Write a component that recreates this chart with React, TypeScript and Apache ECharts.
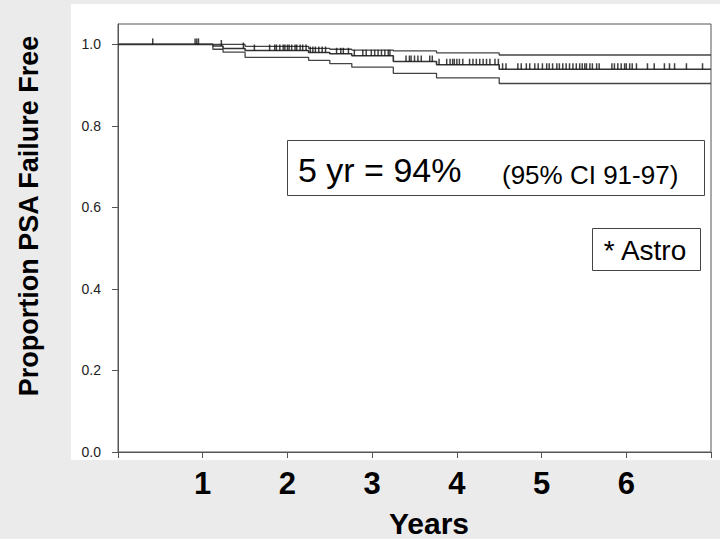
import React, { useEffect, useRef } from "react";
import * as echarts from "echarts";

// Kaplan-Meier step data (years, proportion PSA failure free)
const stepTimes = [0, 1.12, 1.24, 1.5, 2.25, 2.5, 2.76, 3.25, 3.76, 4.5, 7.0];
const survival = [1.0, 0.996, 0.99, 0.985, 0.98, 0.977, 0.972, 0.958, 0.95, 0.939, 0.939];
const upperCI = [1.0, 1.0, 1.0, 0.995, 0.99, 0.988, 0.986, 0.984, 0.979, 0.974, 0.974];
const lowerCI = [1.0, 0.988, 0.981, 0.968, 0.961, 0.953, 0.944, 0.929, 0.918, 0.904, 0.904];

// Censoring times (tick marks on the survival curve)
const censorTimes = [
  0.41, 0.91, 0.93, 0.95, 1.22, 1.48,
  1.61, 1.79, 1.85, 1.87, 1.91, 1.95, 1.97, 2.0, 2.02, 2.05, 2.09, 2.11, 2.15, 2.18, 2.22,
  2.27, 2.3, 2.33, 2.37, 2.41, 2.45,
  2.58, 2.63, 2.66, 2.72,
  2.79, 2.89, 2.93, 2.99, 3.03, 3.07, 3.11, 3.15, 3.19, 3.21,
  3.4, 3.44, 3.46, 3.5, 3.54, 3.58, 3.68, 3.71,
  3.79, 3.88, 3.92, 3.95, 3.97, 4.0, 4.03, 4.07, 4.15, 4.19, 4.23, 4.27, 4.31, 4.35, 4.39, 4.45, 4.49,
  4.54, 4.58, 4.72, 4.76, 4.82, 4.86, 4.92, 4.96,
  5.01, 5.06, 5.09, 5.13, 5.18, 5.21, 5.25, 5.29, 5.33, 5.37, 5.41, 5.45, 5.48, 5.51, 5.53, 5.57,
  5.6, 5.65, 5.68, 5.83, 5.86, 5.9, 5.94, 5.98, 6.0, 6.04, 6.07, 6.12, 6.25, 6.33, 6.45, 6.51,
  6.57, 6.71, 6.9,
];

const xTickLabels = ["", "1", "2", "3", "4", "5", "6", ""];
const yTickValues = [0, 0.2, 0.4, 0.6, 0.8, 1.0];

const yAxisTitle = "Proportion PSA Failure Free";
const xAxisTitle = "Years";
const summaryMain = "5 yr = 94%";
const summaryCI = "(95% CI 91-97)";
const noteText = "* Astro";

function survAt(t: number): number {
  let v = survival[0];
  for (let i = 0; i < stepTimes.length; i++) {
    if (stepTimes[i] <= t) v = survival[i];
  }
  return v;
}

const FONT = "Liberation Sans, Arial, sans-serif";

export default function App() {
  const ref = useRef<HTMLDivElement>(null);

  useEffect(() => {
    document.body.style.margin = "0";
    if (!ref.current) return;
    const chart = echarts.init(ref.current, undefined, { renderer: "svg" });
    const pairs = (ys: number[]) => stepTimes.map((t, i) => [t, ys[i]]);
    const lineColor = "#333333";

    chart.setOption({
      animation: false,
      backgroundColor: "#ebebeb",
      textStyle: { fontFamily: FONT },
      grid: {
        left: 118,
        top: 24,
        right: 9,
        bottom: 87,
        show: true,
        borderColor: "#555555",
        borderWidth: 1,
        backgroundColor: "transparent",
      },
      xAxis: {
        type: "value",
        min: 0,
        max: 7,
        interval: 1,
        axisLine: { show: true, onZero: false, lineStyle: { color: "#555555", width: 1 } },
        axisTick: { show: true, length: 6, lineStyle: { color: "#555555" } },
        splitLine: { show: false },
        axisLabel: {
          margin: 16,
          fontSize: 31,
          fontWeight: "bold",
          color: "#000",
          fontFamily: FONT,
          formatter: (v: number) => xTickLabels[Math.round(v)] ?? "",
        },
      },
      yAxis: {
        type: "value",
        min: 0,
        max: 1.05,
        axisLine: { show: true, onZero: false, lineStyle: { color: "#555555", width: 1 } },
        axisTick: { show: true, length: 6, customValues: yTickValues, lineStyle: { color: "#555555" } },
        splitLine: { show: false },
        axisLabel: {
          margin: 17,
          fontSize: 14,
          color: "#222",
          fontFamily: FONT,
          customValues: yTickValues,
          formatter: (v: number) => v.toFixed(1),
        },
      },
      graphic: [
        {
          type: "rect",
          z: -10,
          zlevel: 0,
          silent: true,
          shape: { x: 71, y: 4, width: 649, height: 456 },
          style: { fill: "#ffffff" },
        },
        {
          type: "text",
          x: 29,
          y: 216,
          rotation: Math.PI / 2,
          style: {
            text: yAxisTitle,
            fontSize: 27,
            fontWeight: "bold",
            fontFamily: FONT,
            fill: "#000",
            align: "center",
            verticalAlign: "middle",
          },
        },
        {
          type: "text",
          x: 429,
          y: 523,
          style: {
            text: xAxisTitle,
            fontSize: 30,
            fontWeight: "bold",
            fontFamily: FONT,
            fill: "#000",
            align: "center",
            verticalAlign: "middle",
          },
        },
        {
          type: "rect",
          shape: { x: 287.5, y: 140.5, width: 417, height: 55 },
          style: { fill: "#ffffff", stroke: "#444", lineWidth: 1 },
        },
        {
          type: "text",
          x: 298,
          y: 170,
          style: {
            text: summaryMain,
            fontSize: 34,
            fontFamily: FONT,
            fill: "#000",
            align: "left",
            verticalAlign: "middle",
          },
        },
        {
          type: "text",
          x: 502,
          y: 175,
          style: {
            text: summaryCI,
            fontSize: 26,
            fontFamily: FONT,
            fill: "#000",
            align: "left",
            verticalAlign: "middle",
          },
        },
        {
          type: "rect",
          shape: { x: 592.5, y: 228.5, width: 108, height: 42 },
          style: { fill: "#ffffff", stroke: "#444", lineWidth: 1 },
        },
        {
          type: "text",
          x: 645,
          y: 250,
          style: {
            text: noteText,
            fontSize: 28,
            fontFamily: FONT,
            fill: "#000",
            align: "center",
            verticalAlign: "middle",
          },
        },
      ],
      series: [
        {
          type: "line",
          step: "end",
          data: pairs(upperCI),
          symbol: "none",
          lineStyle: { color: "#444", width: 1.3 },
          z: 3,
        },
        {
          type: "line",
          step: "end",
          data: pairs(lowerCI),
          symbol: "none",
          lineStyle: { color: "#444", width: 1.3 },
          z: 3,
        },
        {
          type: "line",
          step: "end",
          data: pairs(survival),
          symbol: "none",
          lineStyle: { color: lineColor, width: 1.6 },
          z: 4,
        },
        {
          type: "scatter",
          data: censorTimes.map((t) => [t, survAt(t)]),
          symbol: "rect",
          symbolSize: [1.5, 6],
          symbolOffset: [0, -3],
          itemStyle: { color: "#111" },
          z: 5,
        },
      ],
    });
    return () => chart.dispose();
  }, []);

  return <div ref={ref} style={{ width: 720, height: 539 }} />;
}
